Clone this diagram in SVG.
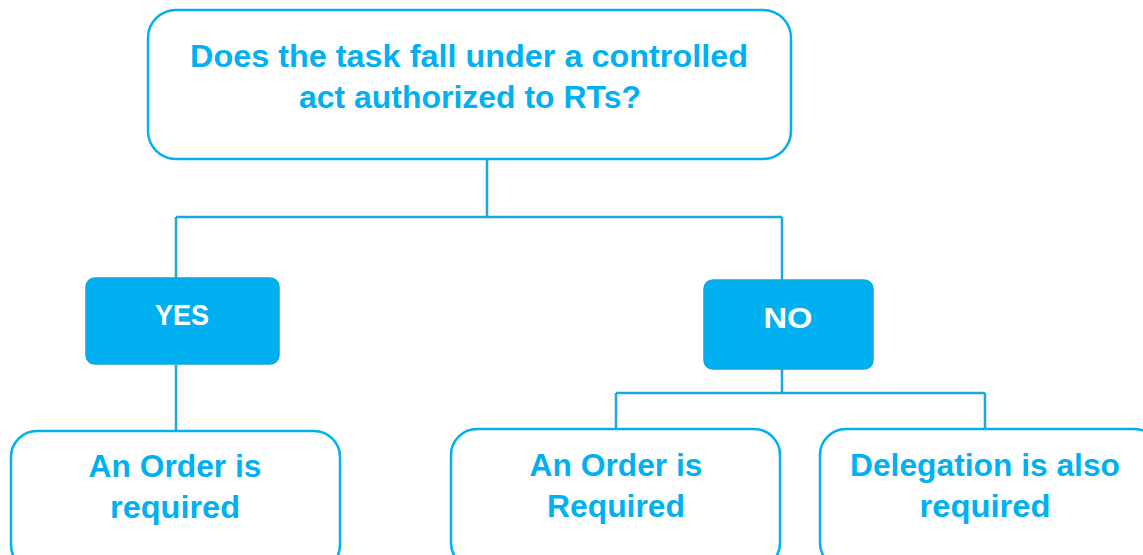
<svg xmlns="http://www.w3.org/2000/svg" width="1143" height="555" viewBox="0 0 1143 555">
<style>
.box{fill:#fff;stroke:#00B0F0;stroke-width:2.5}
.fillbox{fill:#00B0F0;stroke:#0FA6DC;stroke-width:1.5}
.t{font-family:"Liberation Sans",Arial,sans-serif;font-weight:bold;font-size:31px;fill:#00B0F0;text-anchor:middle}
.w{fill:#fff;font-size:29px}
.c{fill:none;stroke:#1AA8DE;stroke-width:2.5}
</style>
<rect width="1143" height="555" fill="#fff"/>
<g id="connectors">
<path class="c" d="M487 159V217M176 217H782M176 217V279M782 217V280"/>
<path class="c" d="M176 365V431"/>
<path class="c" d="M782 369V393M616 393H985M616 393V429M985 393V429"/>
</g>
<g id="question">
<rect class="box" x="148" y="10" width="643" height="149" rx="28"/>
<text class="t" x="469" y="67" textLength="558" lengthAdjust="spacingAndGlyphs">Does the task fall under a controlled</text>
<text class="t" x="470" y="108" textLength="342" lengthAdjust="spacingAndGlyphs">act authorized to RTs?</text>
</g>
<g id="yes">
<rect class="fillbox" x="86" y="278" width="193" height="86" rx="9"/>
<text class="t w" x="182" y="325" textLength="54" lengthAdjust="spacingAndGlyphs">YES</text>
</g>
<g id="no">
<rect class="fillbox" x="704" y="280" width="169" height="89" rx="9"/>
<text class="t w" x="788" y="328" textLength="49" lengthAdjust="spacingAndGlyphs">NO</text>
</g>
<g id="yes-order">
<rect class="box" x="11" y="431" width="329" height="140" rx="26"/>
<text class="t" x="175" y="477" textLength="173" lengthAdjust="spacingAndGlyphs">An Order is</text>
<text class="t" x="175" y="518" textLength="130" lengthAdjust="spacingAndGlyphs">required</text>
</g>
<g id="no-order">
<rect class="box" x="451" y="429" width="329" height="140" rx="26"/>
<text class="t" x="616" y="476" textLength="173" lengthAdjust="spacingAndGlyphs">An Order is</text>
<text class="t" x="616" y="517" textLength="138" lengthAdjust="spacingAndGlyphs">Required</text>
</g>
<g id="no-delegation">
<rect class="box" x="820" y="429" width="340" height="140" rx="26"/>
<text class="t" x="985" y="476" textLength="270" lengthAdjust="spacingAndGlyphs">Delegation is also</text>
<text class="t" x="985" y="517" textLength="131" lengthAdjust="spacingAndGlyphs">required</text>
</g>
</svg>
